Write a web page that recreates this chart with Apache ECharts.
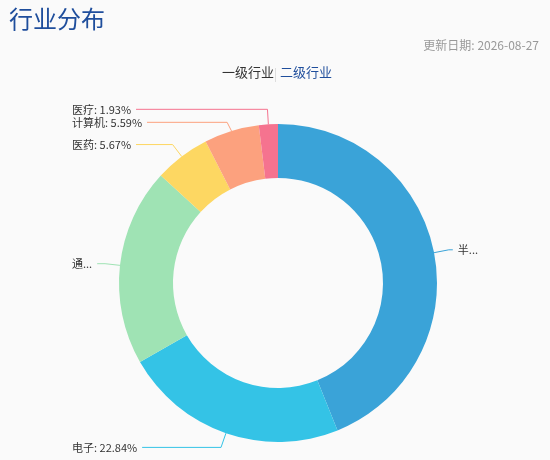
<!DOCTYPE html><html><head><meta charset="utf-8"><script src="https://cdn.jsdelivr.net/npm/echarts@6/dist/echarts.min.js"></script></head><body style="margin:0;background:#fafafa"><div id="c" style="width:550px;height:460px"></div><script>
const names=['半导体','电子','通信设备及技术服务','医药','计算机','医疗'];
const values=[43.89,22.84,20.08,5.67,5.59,1.93];
const colors=['#3aa3d8','#34c3e6','#9fe3b4','#fdd762','#fca17e','#f5738f'];
const ch=echarts.init(document.getElementById('c'));
ch.setOption({backgroundColor:'#fafafa',
title:[{text:'行业分布',left:4,top:2,textStyle:{fontSize:24,fontWeight:'normal',color:'#1f4e9c',fontFamily:'Noto Sans CJK SC'}},
{text:'更新日期: 2026-08-27',right:6,top:34,textStyle:{fontSize:12,fontWeight:'normal',color:'#999',fontFamily:'Noto Sans CJK SC'}}],
graphic:[{type:'text',left:222,top:66,style:{text:'一级行业',fontSize:13,fill:'#333',fontFamily:'Noto Sans CJK SC'}},
{type:'rect',left:275,top:68,shape:{width:1,height:14},style:{fill:'#ddd'}},
{type:'text',left:280,top:66,style:{text:'二级行业',fontSize:13,fill:'#1f4e9c',fontFamily:'Noto Sans CJK SC'}}],
series:[{type:'pie',center:[278,283],radius:[105,159],startAngle:90,clockwise:true,
data:names.map((n,i)=>({name:n,value:values[i],itemStyle:{color:colors[i]}})),
label:{formatter:p=>p.name+': '+p.value.toFixed(2)+'%',alignTo:'edge',edgeDistance:72,fontSize:11,color:'#333',fontFamily:'Noto Sans CJK SC',padding:[0,0,2,0]},
labelLine:{length:15,length2:0,smooth:false},labelLayout:{}
}]});
</script></body></html>
